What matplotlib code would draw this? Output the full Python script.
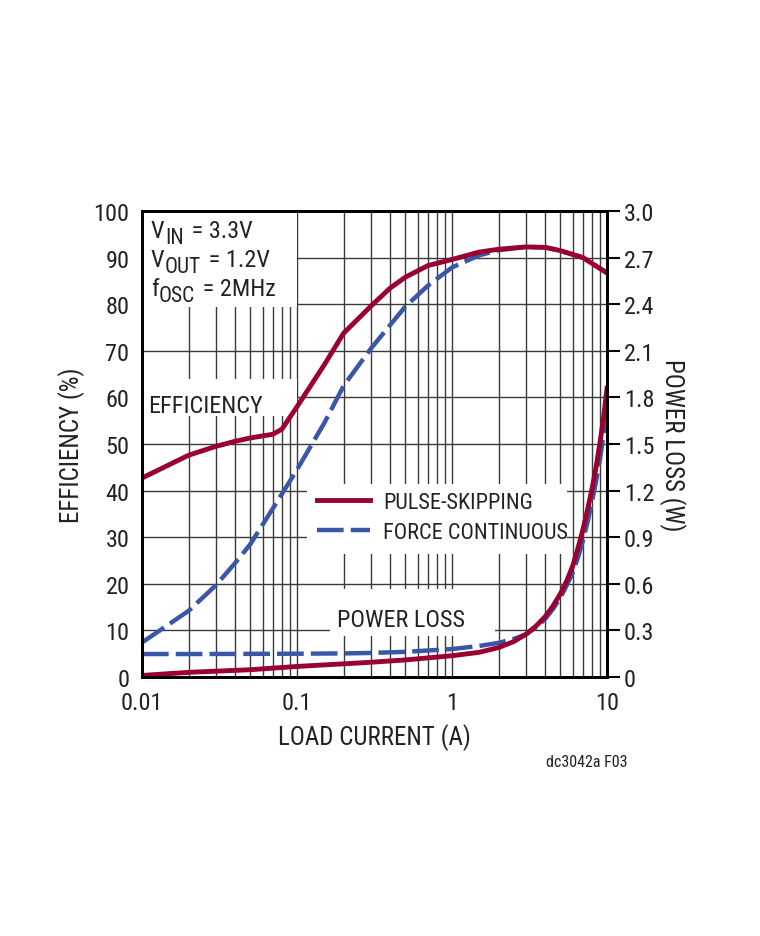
import matplotlib
matplotlib.use("Agg")
import matplotlib.pyplot as plt
from matplotlib import font_manager
from matplotlib.patches import Rectangle
from matplotlib.ticker import FixedLocator, FuncFormatter, NullFormatter, LogLocator

# ---------------- data ----------------
I_ps = [0.01, 0.02, 0.03, 0.04, 0.05, 0.07, 0.08, 0.1, 0.15, 0.2, 0.3, 0.4, 0.5, 0.7,
        1, 1.5, 2, 3, 4, 5, 7, 10]
eff_ps = [42.7, 47.6, 49.5, 50.6, 51.3, 52.1, 53.2, 58.0, 67.0, 73.8, 79.6, 83.5, 85.8, 88.3,
          89.6, 91.2, 91.8, 92.3, 92.2, 91.5, 90.0, 86.7]

I_fc = [0.01, 0.02, 0.03, 0.04, 0.05, 0.07, 0.1, 0.15, 0.2, 0.3, 0.5, 0.7,
        1, 1.5, 2, 3, 4, 5, 7, 10]
eff_fc = [7.4, 14.2, 19.7, 24.5, 28.5, 36.2, 44.5, 54.5, 62.5, 70.5, 79.5, 84.0,
          87.9, 90.5, 91.6, 92.3, 92.2, 91.5, 90.0, 86.7]

I_loss = [0.01, 0.02, 0.05, 0.1, 0.2, 0.3, 0.5, 1, 1.5, 2, 2.5, 3, 3.5, 4, 4.5, 5, 5.5,
          6, 6.5, 7, 7.5, 8, 8.5, 9, 9.5, 10]
loss_ps = [0.010, 0.030, 0.047, 0.068, 0.085, 0.095, 0.11, 0.137, 0.159, 0.19, 0.228, 0.275,
           0.33, 0.39, 0.46, 0.535, 0.62, 0.713, 0.83, 0.95, 1.08, 1.21, 1.35, 1.506, 1.67, 1.86]
loss_fc = [0.148, 0.148, 0.149, 0.150, 0.152, 0.155, 0.162, 0.18, 0.20, 0.22, 0.245, 0.275,
           0.32, 0.375, 0.44, 0.51, 0.59, 0.67, 0.77, 0.88, 1.00, 1.13, 1.26, 1.40, 1.56, 1.74]

eff_ticks = [0, 10, 20, 30, 40, 50, 60, 70, 80, 90, 100]
loss_ticks = [0, 0.3, 0.6, 0.9, 1.2, 1.5, 1.8, 2.1, 2.4, 2.7, 3.0]
x_ticks = [0.01, 0.1, 1, 10]
x_tick_labels = ["0.01", "0.1", "1", "10"]

series_labels = ["PULSE-SKIPPING", "FORCE CONTINUOUS"]
spec_lines = [("V", "IN", " = 3.3V"), ("V", "OUT", " = 1.2V"), ("f", "OSC", " = 2MHz")]

# ---------------- style ----------------
available = {f.name for f in font_manager.fontManager.ttflist}
prefs = ["Nimbus Sans Narrow", "Liberation Sans Narrow", "Arial Narrow", "Roboto Condensed",
         "Archivo Narrow", "PT Sans Narrow", "Pragati Narrow", "Fira Sans Condensed",
         "IBM Plex Sans Condensed", "Open Sans Condensed", "Encode Sans Condensed",
         "Asap Condensed", "Barlow Semi Condensed", "DejaVu Sans"]
FONT = next(f for f in prefs if f in available)
plt.rcParams["font.family"] = [FONT, "DejaVu Sans"]

RED = "#9a0030"
BLUE = "#3a56a6"
GRID = "#3a3a3a"
TXT = "#222222"
FS_TICK = 17.5
FS_TXT = 17.5
FS_LEG = 16
FS_LAB = 18

fig = plt.figure(figsize=(7.6, 9.37), dpi=100)
ax = fig.add_axes([0.1868, 0.2764, 0.6119, 0.4973])
ax2 = ax.twinx()

ax.set_xscale("log")
ax.set_xlim(0.01, 10)
ax.set_ylim(0, 100)
ax2.set_ylim(0, 3.0)

ax.xaxis.set_major_locator(FixedLocator(x_ticks))
ax.xaxis.set_major_formatter(FuncFormatter(lambda v, p: x_tick_labels[x_ticks.index(v)] if v in x_ticks else ""))
ax.xaxis.set_minor_locator(LogLocator(base=10, subs=range(2, 10)))
ax.xaxis.set_minor_formatter(NullFormatter())
ax.set_yticks(eff_ticks)
ax2.set_yticks(loss_ticks)
ax2.set_yticklabels(["0" if t == 0 else f"{t:.1f}" for t in loss_ticks])

ax.grid(True, which="both", axis="x", color=GRID, lw=1.0)
ax.grid(True, which="major", axis="y", color=GRID, lw=1.0)

ax.tick_params(axis="x", which="both", length=0, pad=10, labelsize=FS_TICK, labelcolor=TXT)
ax.tick_params(axis="y", length=0, pad=9, labelsize=FS_TICK, labelcolor=TXT)
ax2.tick_params(axis="y", length=9, width=1.5, pad=3, labelsize=FS_TICK, labelcolor=TXT, direction="out")

for a in (ax, ax2):
    for s in a.spines.values():
        s.set_linewidth(2.0)
        s.set_color("black")

# white label backgrounds (hide grid behind text)
for (x0, y0, w, h) in [(0.0, 0.794, 0.333, 0.206),
                       (0.0, 0.560, 0.333, 0.079),
                       (0.355, 0.264, 0.559, 0.150),
                       (0.404, 0.088, 0.355, 0.101)]:
    ax.add_patch(Rectangle((x0, y0), w, h, transform=ax.transAxes, facecolor="white",
                           edgecolor="none", zorder=1.8))

# efficiency curves
ax.plot(I_fc, eff_fc, color=BLUE, lw=3.2, linestyle=(0, (6, 1.6)), zorder=2)
ax.plot(I_ps, eff_ps, color=RED, lw=3.5, zorder=2.1)

# power loss curves
l_fc, = ax2.plot(I_loss, loss_fc, color=BLUE, lw=3.2, linestyle=(0, (6, 1.6)), zorder=2)
l_ps, = ax2.plot(I_loss, loss_ps, color=RED, lw=3.5, zorder=2.1)

leg = ax2.legend([l_ps, l_fc], series_labels, loc="upper left", bbox_to_anchor=(0.376, 0.397),
                 frameon=False, fontsize=FS_LEG, handlelength=2.4, handletextpad=0.6,
                 borderpad=0, borderaxespad=0, labelspacing=0.4)
for t in leg.get_texts():
    t.set_color(TXT)

# annotations
def px_to_axes(xp, yp):
    return (xp - 142) / 465.0, (678 - yp) / 466.0

for (main, sub, rest), yb in zip(spec_lines, [238, 267, 296]):
    x, y = px_to_axes(151, yb)
    t_main = ax.text(x, y, main, transform=ax.transAxes, fontsize=FS_TXT, color=TXT,
                     va="baseline", ha="left", zorder=3)
    t_sub = ax.annotate(sub, xy=(1, 0), xycoords=t_main, xytext=(0.3, -4.5),
                        textcoords="offset points", fontsize=FS_TXT - 2, color=TXT,
                        va="bottom", ha="left", zorder=3)
    ax.annotate(rest, xy=(1, 0), xycoords=(t_sub, t_main), xytext=(1.5, 0),
                textcoords="offset points", fontsize=FS_TXT, color=TXT,
                va="bottom", ha="left", zorder=3)

x, y = px_to_axes(148, 413)
ax.text(x, y, "EFFICIENCY", transform=ax.transAxes, fontsize=FS_TXT, color=TXT, va="baseline", zorder=3)
x, y = px_to_axes(337, 627)
ax.text(x, y, "POWER LOSS", transform=ax.transAxes, fontsize=FS_TXT, color=TXT, va="baseline", zorder=3)

ax.set_xlabel("LOAD CURRENT (A)", fontsize=FS_LAB, color=TXT, labelpad=7)
ax.set_ylabel("EFFICIENCY (%)", fontsize=FS_LAB, color=TXT, labelpad=6)
ax2.set_ylabel("POWER LOSS (W)", fontsize=FS_LAB, color=TXT, rotation=-90, labelpad=23)

fig.text(628 / 760, 1 - 767 / 937, "dc3042a F03", fontsize=11.5, color=TXT, ha="right", va="baseline")

fig.savefig("out.png", dpi=100)
